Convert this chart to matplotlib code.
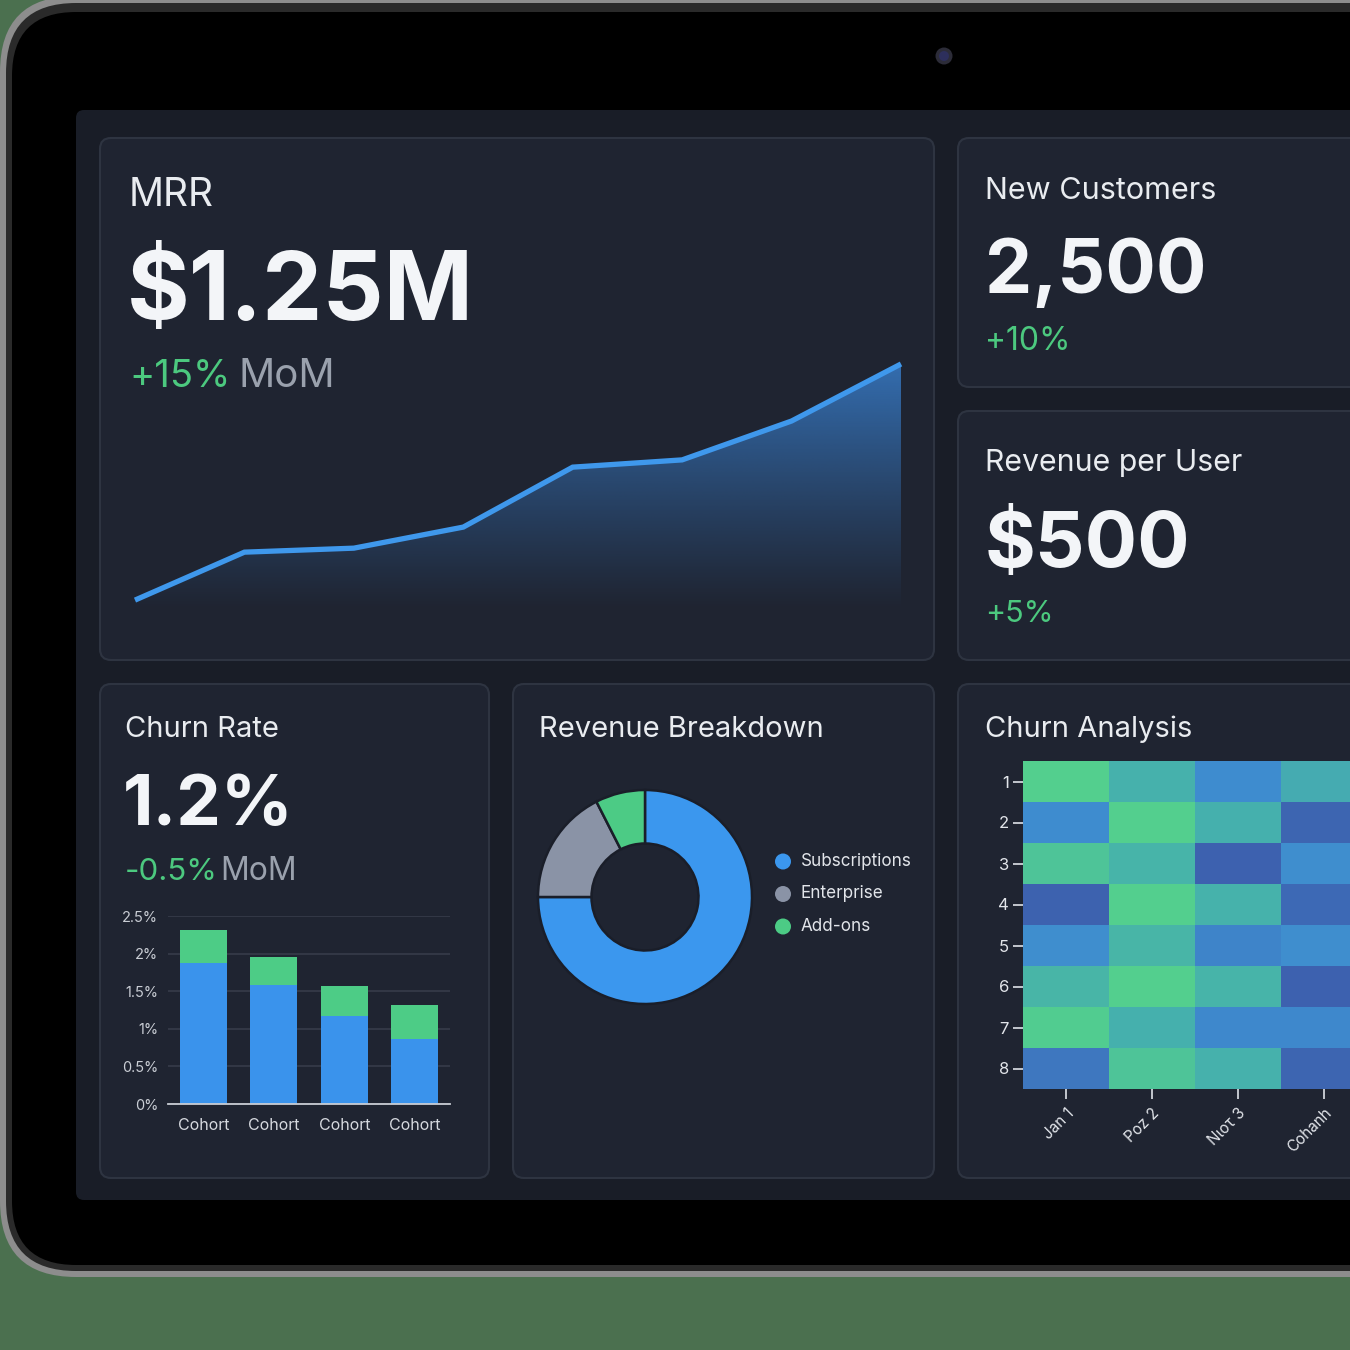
import numpy as np
import matplotlib
matplotlib.use("Agg")
import matplotlib.pyplot as plt
from matplotlib.patches import FancyBboxPatch, Circle, Polygon
from matplotlib.colors import LinearSegmentedColormap, to_rgb

# ---------------- data ----------------
mrr_months = [0, 1, 2, 3, 4, 5, 6, 7]
mrr_values = [600, 732, 743, 801, 966, 986, 1093, 1250]   # $K

churn_cohorts = ["Cohort", "Cohort", "Cohort", "Cohort"]
churn_base = [1.88, 1.58, 1.17, 0.86]
churn_extra = [0.44, 0.38, 0.40, 0.46]
churn_yticks = [0, 0.5, 1, 1.5, 2, 2.5]
churn_ytick_labels = ["0%", "0.5%", "1%", "1.5%", "2%", "2.5%"]

rev_labels = ["Subscriptions", "Enterprise", "Add-ons"]
rev_shares = [75, 17.5, 7.5]

heat_rows = ["1", "2", "3", "4", "5", "6", "7", "8"]
heat_cols = ["Jan 1", "Poz 2", "Nιoτ 3", "Cohanh"]
heat_values = [
    [1.00, 0.67, 0.33, 0.62],
    [0.33, 1.00, 0.66, 0.05],
    [0.88, 0.70, 0.02, 0.35],
    [0.03, 1.00, 0.68, 0.08],
    [0.35, 0.72, 0.27, 0.35],
    [0.72, 1.00, 0.70, 0.02],
    [0.97, 0.66, 0.30, 0.30],
    [0.18, 0.88, 0.67, 0.05],
]

# ---------------- style ----------------
FONT = ["Inter", "DejaVu Sans"]
plt.rcParams["font.family"] = FONT
W = H = 1350
GREEN_BG = "#4b704f"
SCREEN = "#191d27"
CARD = "#1f2431"
BORDER = "#2e3441"
WHITE = "#f3f5f8"
TITLE = "#e9ecf0"
POS = "#4cc97f"
MUTED = "#9aa1ad"
BLUE = "#3b97ee"
GREY = "#8a93a6"
ADD = "#4ccb85"

fig = plt.figure(figsize=(W / 100, H / 100), dpi=100)
fig.patch.set_facecolor(GREEN_BG)


def px(x0, y0, x1, y1):
    return [x0 / W, 1 - y1 / H, (x1 - x0) / W, (y1 - y0) / H]


bg = fig.add_axes([0, 0, 1, 1])
bg.set_xlim(0, W)
bg.set_ylim(H, 0)
bg.axis("off")


def rbox(x0, y0, x1, y1, r, fc, ec="none", lw=0, z=1):
    p = FancyBboxPatch((x0, y0), x1 - x0, y1 - y0,
                       boxstyle=f"round,pad=0,rounding_size={r}",
                       fc=fc, ec=ec, lw=lw, zorder=z)
    bg.add_patch(p)
    return p


# tablet body
rbox(0, -4, 1600, 1277, 76, "#8d8d8d", z=1)
rbox(6, 3, 1594, 1271, 70, "#2a2a2a", z=2)
rbox(12, 12, 1588, 1265, 64, "#000000", z=3)
# camera
bg.add_patch(Circle((944, 56), 8.5, fc="#2c2c38", ec="none", zorder=4))
bg.add_patch(Circle((944, 56), 5, fc="#2d2f5c", ec="none", zorder=5))
# screen
rbox(76, 110, 1600, 1200, 8, SCREEN, z=4)

# cards
cards = [(100, 138, 934, 660), (958, 138, 1600, 387), (958, 411, 1600, 660),
         (100, 684, 489, 1178), (513, 684, 934, 1178), (958, 684, 1600, 1178)]
for c in cards:
    rbox(*c, 11, CARD, BORDER, 1.5, z=5)


def txt(x, y, s, size, color=WHITE, weight="normal", **kw):
    bg.text(x, y, s, fontsize=size, color=color, fontweight=weight,
            va="baseline", ha="left", zorder=10, family=FONT, **kw)


# MRR card texts
txt(129, 206, "MRR", 28, TITLE)
txt(127, 320, "$1.25M", 69, WHITE, "bold")
txt(129, 387, "+15%", 27.5, POS)
txt(239, 387, "MoM", 29, MUTED)

# New customers
txt(985, 199, "New Customers", 22, TITLE)
txt(985, 293, "2,500", 54, WHITE, "bold")
txt(985, 350, "+10%", 23, POS)

# Revenue per user
txt(985, 471, "Revenue per User", 21.8, TITLE)
txt(985, 567, "$500", 56, WHITE, "bold")
txt(985, 622, "+5%", 22, POS)

# Churn rate
txt(125, 737, "Churn Rate", 21, TITLE)
txt(123, 825, "1.2%", 51, WHITE, "bold")
txt(125, 880, "-0.5%", 22.5, POS)
txt(220, 880, "MoM", 23, MUTED)

txt(539, 737, "Revenue Breakdown", 21, TITLE)
txt(985, 737, "Churn Analysis", 21, TITLE)

# ---------------- MRR area chart ----------------
ax = fig.add_axes(px(135, 340, 901, 615))
ax.set_facecolor("none")
ax.set_xlim(0, 7)
ax.set_ylim(559, 1316)
ax.axis("off")
poly_pts = [(mrr_months[0], 559)] + list(zip(mrr_months, mrr_values)) + [(mrr_months[-1], 559)]
poly = Polygon(poly_pts, closed=True, fc="none", ec="none")
ax.add_patch(poly)
grad = np.zeros((256, 2, 4))
rgb = to_rgb("#3d8ee8")
grad[..., 0], grad[..., 1], grad[..., 2] = rgb
alpha = np.linspace(0.72, 0.0, 256) ** 1.1
grad[..., 3] = alpha[:, None]
im = ax.imshow(grad, extent=(0, 7, 570, 1250), origin="upper", aspect="auto", zorder=1)
im.set_clip_path(poly)
ax.plot(mrr_months, mrr_values, color="#3f98ec", lw=3.8, solid_capstyle="butt",
        solid_joinstyle="miter", zorder=3, clip_on=False)

# ---------------- churn bars ----------------
bx = fig.add_axes(px(168, 916, 450, 1104))
bx.set_facecolor("none")
x = np.arange(len(churn_cohorts))
bx.bar(x, churn_base, width=0.66, color="#3a93ec", zorder=3)
bx.bar(x, churn_extra, bottom=churn_base, width=0.66, color="#4dcc86", zorder=3)
bx.set_xlim(-0.5, 3.5)
bx.set_ylim(0, 2.5)
bx.set_yticks(churn_yticks)
bx.set_yticklabels(churn_ytick_labels)
bx.set_xticks(x)
bx.set_xticklabels(churn_cohorts)
bx.grid(axis="y", color="#363c4a", lw=1.2, zorder=0)
bx.set_axisbelow(True)
for s in ["top", "right", "left"]:
    bx.spines[s].set_visible(False)
bx.spines["bottom"].set_color("#c9cdd4")
bx.spines["bottom"].set_linewidth(1.3)
bx.spines["bottom"].set_zorder(4)
bx.tick_params(axis="y", length=0, pad=7, labelsize=10.5, labelcolor="#c9cdd4")
bx.tick_params(axis="x", length=0, pad=10, labelsize=11.5, labelcolor="#d6d9df")

# ---------------- donut ----------------
dx = fig.add_axes(px(538, 790, 752, 1004))
dx.set_facecolor("none")
dx.pie(rev_shares, colors=[BLUE, GREY, ADD], startangle=90, counterclock=False,
       radius=1.0, wedgeprops=dict(width=0.5, edgecolor="#1a1e29", linewidth=1.8))
dx.set_xlim(-1.0, 1.0)
dx.set_ylim(-1.0, 1.0)
dx.set_aspect("equal")
for i, (lab, col) in enumerate(zip(rev_labels, [BLUE, GREY, ADD])):
    yy = 861.5 + i * 32.5
    bg.add_patch(Circle((783, yy), 8, fc=col, ec="none", zorder=10))
    bg.text(801, yy, lab, fontsize=12.3, color="#e2e5ea", va="center", ha="left",
            zorder=10, family=FONT)

# ---------------- heatmap ----------------
cmap = LinearSegmentedColormap.from_list("churn", ["#3d5fad", "#3f8dd0", "#46b1ad", "#53cf8e"])
hx = fig.add_axes(px(1023, 761, 1367, 1089))
hx.imshow(np.array(heat_values), cmap=cmap, vmin=0, vmax=1, aspect="auto",
          interpolation="nearest")
hx.set_yticks(range(len(heat_rows)))
hx.set_yticklabels(heat_rows)
hx.set_xticks(range(len(heat_cols)))
hx.set_xticklabels(heat_cols, rotation=45, ha="right", rotation_mode="anchor")
for s in hx.spines.values():
    s.set_visible(False)
hx.tick_params(axis="y", length=7, width=1.3, color="#d0d4da", pad=3,
               labelsize=12, labelcolor="#e2e5ea")
hx.tick_params(axis="x", length=7, width=1.3, color="#d0d4da", pad=5,
               labelsize=11, labelcolor="#e2e5ea")

fig.savefig("out.png", dpi=100, facecolor=fig.get_facecolor())
